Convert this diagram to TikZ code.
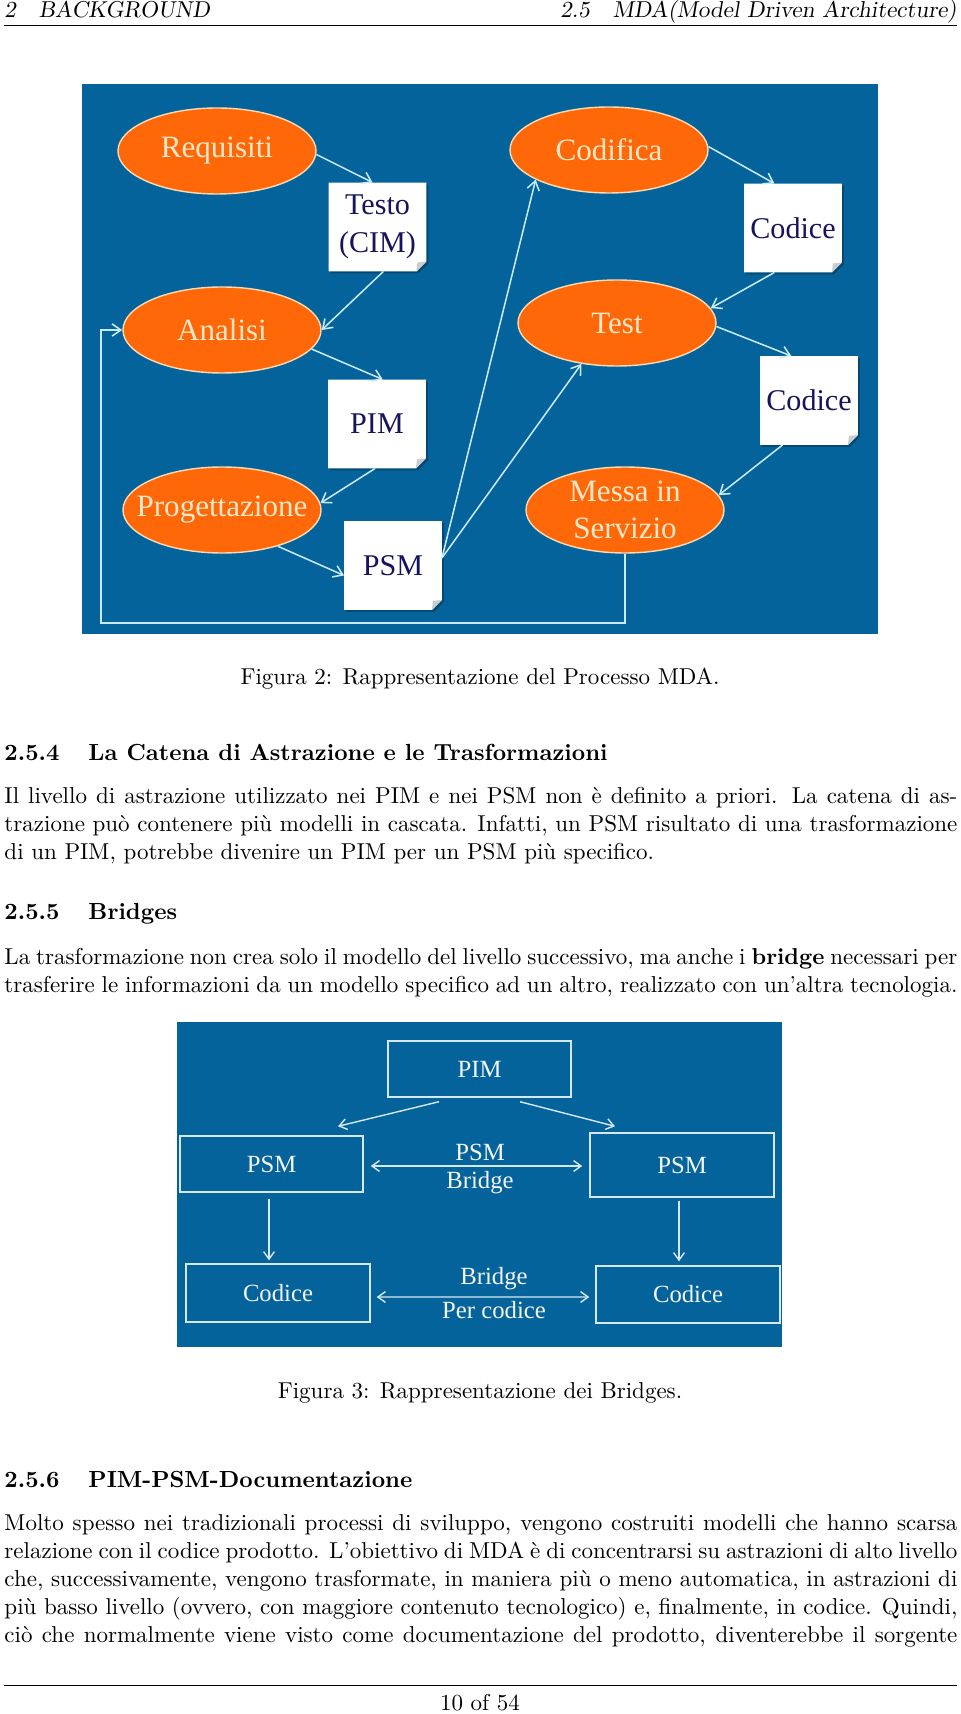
\documentclass[tikz,border=0pt]{standalone}
\usepackage{fontspec}
\newfontfamily\tms{Liberation Serif}
\usetikzlibrary{shapes.geometric,arrows.meta,calc}
\definecolor{bgblue}{RGB}{4,99,154}
\definecolor{orng}{RGB}{255,104,8}
\definecolor{ecream}{RGB}{250,218,178}
\definecolor{etext}{RGB}{255,232,200}
\definecolor{acol}{RGB}{200,234,250}
\definecolor{navy}{RGB}{22,20,92}
\definecolor{bline}{RGB}{214,232,244}
\definecolor{btext}{RGB}{244,246,250}
\newcommand\bodyf{\fontsize{9.77}{11.7}\selectfont}
\newcommand\headf{\fontsize{9.9}{11.9}\selectfont\bfseries}
\newcommand\jl[1]{\makebox[405pt][s]{#1}}
\begin{document}
\begin{tikzpicture}[x=0.425pt,y=-0.425pt,
  txt/.style={anchor=base west,inner sep=0pt,font=\bodyf},
  hd/.style={anchor=base west,inner sep=0pt,font=\headf},
  stage/.style={ellipse,fill=orng,draw=ecream,line width=0.6pt,minimum width=84.15pt,minimum height=36.55pt,inner sep=0pt},
  stxt/.style={text=etext,font=\tms\fontsize{13.2}{15.8}\selectfont,align=center,inner sep=0pt},
  docbox/.style={rectangle,minimum width=41.2pt,minimum height=37.4pt,inner sep=0pt},
  dtxt/.style={text=navy,font=\tms\fontsize{12.8}{16.1}\selectfont,align=center,inner sep=0pt},
  arr/.style={draw=acol,line width=0.65pt,-{Straight Barb[length=3.8pt,width=5.2pt]}},
  bbox/.style={draw=bline,line width=0.6pt,text=btext,font=\tms\fontsize{10.5}{12}\selectfont,inner sep=0pt},
  blbl/.style={text=btext,font=\tms\fontsize{10.5}{12}\selectfont,inner sep=0pt},
  arr2/.style={draw=bline,line width=0.6pt,-{Straight Barb[length=3.2pt,width=4.6pt]}},
  arr2d/.style={draw=bline,line width=0.6pt,{Straight Barb[length=3.2pt,width=4.6pt]}-{Straight Barb[length=3.2pt,width=4.6pt]}}
]
\useasboundingbox (0,0) rectangle (960,1714);
\fill[white] (0,0) rectangle (960,1714);

% header
\node[txt] (hl) at (4,18) {\slshape 2\quad BACKGROUND};
\node[anchor=base east,inner sep=0pt,font=\bodyf] (hr) at (957,18) {\slshape 2.5\quad MDA(Model Driven Architecture)};
\coordinate (hrl) at (4,25);
\coordinate (hrr) at (957,25);
\draw[line width=0.4pt] (hrl) -- (hrr);

% ---------------- diagram 1
\fill[bgblue] (82,84) rectangle (878,634);
\node[stage] (req) at (217,151) {};
\node[stage] (ana) at (222,330) {};
\node[stage] (prog) at (222,510) {};
\node[stage] (cdf) at (609,150) {};
\node[stage] (tst) at (617,323) {};
\node[stage] (mes) at (625,510) {};
\node[stxt] (reqt) at (req) {Requisiti};
\node[stxt] (anat) at (ana) {Analisi};
\node[stxt] (progt) at (prog) {Progettazione};
\node[stxt] (cdft) at (cdf) {Codifica};
\node[stxt] (tstt) at (tst) {Test};
\node[stxt] (mest) at (mes) {Messa in\\Servizio};

\node[docbox] (testo) at (377.5,227) {};
\node[docbox] (pimd) at (377,424) {};
\node[docbox] (psmd) at (393,565.5) {};
\node[docbox] (cod1) at (793,228) {};
\node[docbox] (cod2) at (809,400.5) {};
\foreach \d in {testo,pimd,psmd,cod1,cod2}{
  \fill[black,opacity=0.25] ($(\d.north west)+(2,2)$) -- ($(\d.north east)+(2,2)$) -- ($(\d.south east)+(2,-8)$) -- ($(\d.south east)+(-8,2)$) -- ($(\d.south west)+(2,2)$) -- cycle;
  \fill[white] (\d.north west) -- (\d.north east) -- ($(\d.south east)+(0,-10)$) -- ($(\d.south east)+(-10,0)$) -- (\d.south west) -- cycle;
  \fill[black!20] ($(\d.south east)+(0,-10)$) -- ($(\d.south east)+(-10,0)$) -- ($(\d.south east)+(-9,-9)$) -- cycle;
}
\node[dtxt] (testot) at (testo) {Testo\\(CIM)};
\node[dtxt] (pimt) at (pimd) {PIM};
\node[dtxt] (psmt) at (psmd) {PSM};
\node[dtxt] (cod1t) at (cod1) {Codice};
\node[dtxt] (cod2t) at (cod2) {Codice};

\draw[arr] (req.-2) -- ($(testo.north west)!0.45!(testo.north east)$);
\draw[arr] ($(testo.south west)!0.56!(testo.south east)$) -- (ana.east);
\draw[arr] (ana.-12) -- ($(pimd.north west)!0.56!(pimd.north east)$);
\draw[arr] ($(pimd.south west)!0.48!(pimd.south east)$) -- (prog.4);
\draw[arr] (prog.-33) -- ($(psmd.west)+(0,10)$);
\draw[arr] ($(psmd.east)+(0,-7.5)$) -- (cdf.-158);
\draw[arr] ($(psmd.east)+(0,-7.5)$) -- (tst.-131);
\draw[arr] (cdf.2) -- ($(cod1.north west)!0.31!(cod1.north east)$);
\draw[arr] ($(cod1.south west)!0.31!(cod1.south east)$) -- (tst.9);
\draw[arr] (tst.-2) -- ($(cod2.north west)!0.32!(cod2.north east)$);
\draw[arr] ($(cod2.south west)!0.23!(cod2.south east)$) -- (mes.9);
\coordinate (fb1) at (625,623);
\coordinate (fb2) at (101,623);
\draw[arr] (mes.south) -- (fb1) -- (fb2) |- (ana.west);

\node[anchor=base,inner sep=0pt,font=\bodyf] (cap2) at (480,684) {Figura 2: Rappresentazione del Processo MDA.};

% ---------------- 2.5.4
\node[hd] (h254) at (4,760) {2.5.4\hspace{12.3pt}La Catena di Astrazione e le Trasformazioni};
\node[txt] (p1a) at (4,803) {\jl{Il livello di astrazione utilizzato nei PIM e nei PSM non è definito a priori. La catena di as-}};
\node[txt] (p1b) at (4,831) {\jl{trazione può contenere più modelli in cascata. Infatti, un PSM risultato di una trasformazione}};
\node[txt] (p1c) at (4,859) {di un PIM, potrebbe divenire un PIM per un PSM più specifico.};

% ---------------- 2.5.5
\node[hd] (h255) at (4,919) {2.5.5\hspace{12.3pt}Bridges};
\node[txt] (p2a) at (4,964) {\jl{La trasformazione non crea solo il modello del livello successivo, ma anche i \textbf{bridge} necessari per}};
\node[txt] (p2b) at (4,992) {\jl{trasferire le informazioni da un modello specifico ad un altro, realizzato con un’altra tecnologia.}};

% ---------------- diagram 2
\fill[bgblue] (177,1022) rectangle (782,1347);
\node[bbox,minimum width=77.8pt,minimum height=23.8pt] (bpim) at (479.5,1069) {PIM};
\node[bbox,minimum width=77.8pt,minimum height=23.8pt] (bpsml) at (271.5,1164) {PSM};
\node[bbox,minimum width=78.2pt,minimum height=27.2pt] (bpsmr) at (682,1165) {PSM};
\node[bbox,minimum width=78.2pt,minimum height=24.65pt] (bcodl) at (278,1293) {Codice};
\node[bbox,minimum width=78.2pt,minimum height=24.2pt] (bcodr) at (688,1294.5) {Codice};
\draw[arr2] ($(bpim.south)+(-40.5,4)$) -- ($(bpsml.north)+(66.5,-9)$);
\draw[arr2] ($(bpim.south)+(40.5,4)$) -- ($(bpsmr.north)+(-67,-6)$);
\draw[arr2] ($(bpsml.south)+(-2.5,6)$) -- ($(bcodl.north)+(-9,-3)$);
\draw[arr2] ($(bpsmr.south)+(-3,3)$) -- ($(bcodr.north)+(-9,-4)$);
\draw[arr2d] ($(bpsml.east)+(7,2)$) -- ($(bpsmr.west)+(-7,1)$);
\draw[arr2d] ($(bcodl.east)+(6,4)$) -- ($(bcodr.west)+(-6,2.5)$);
\node[blbl] (lpsm) at (480,1152) {PSM};
\node[blbl] (lbr1) at (480,1183) {Bridge};
\node[blbl] (lbr2) at (494,1279) {Bridge};
\node[blbl] (lpc) at (494,1310) {Per codice};

\node[anchor=base,inner sep=0pt,font=\bodyf] (cap3) at (480,1398) {Figura 3: Rappresentazione dei Bridges.};

% ---------------- 2.5.6
\node[hd] (h256) at (4,1487) {2.5.6\hspace{12.3pt}PIM-PSM-Documentazione};
\node[txt] (p3a) at (4,1530) {\jl{Molto spesso nei tradizionali processi di sviluppo, vengono costruiti modelli che hanno scarsa}};
\node[txt] (p3b) at (4,1558) {\jl{relazione con il codice prodotto. L’obiettivo di MDA è di concentrarsi su astrazioni di alto livello}};
\node[txt] (p3c) at (4,1586) {\jl{che, successivamente, vengono trasformate, in maniera più o meno automatica, in astrazioni di}};
\node[txt] (p3d) at (4,1614) {\jl{più basso livello (ovvero, con maggiore contenuto tecnologico) e, finalmente, in codice. Quindi,}};
\node[txt] (p3e) at (4,1642) {\jl{ciò che normalmente viene visto come documentazione del prodotto, diventerebbe il sorgente}};

% footer
\coordinate (frl) at (4,1685);
\coordinate (frr) at (957,1685);
\draw[line width=0.4pt] (frl) -- (frr);
\node[anchor=base,inner sep=0pt,font=\bodyf] (pg) at (480,1710) {10 of 54};
\end{tikzpicture}
\end{document}
